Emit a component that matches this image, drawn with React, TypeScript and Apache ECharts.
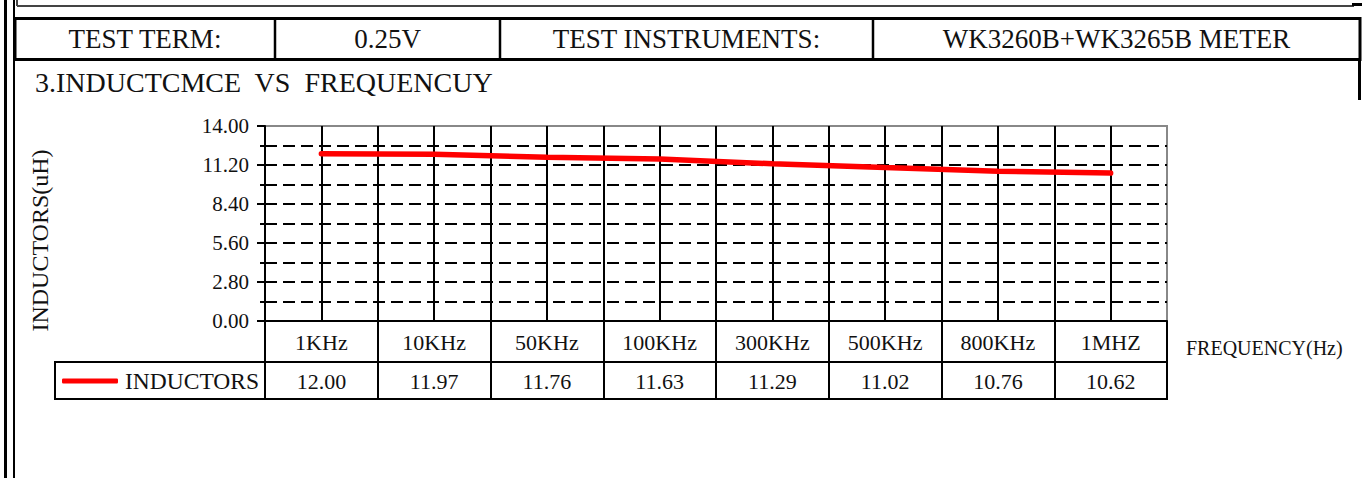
import React, { useEffect, useRef } from "react";
import * as echarts from "echarts";

// ---- data ----
const categories = ["1KHz", "10KHz", "50KHz", "100KHz", "300KHz", "500KHz", "800KHz", "1MHZ"];
const inductance = [12.0, 11.97, 11.76, 11.63, 11.29, 11.02, 10.76, 10.62];
const headerCells = ["TEST TERM:", "0.25V", "TEST INSTRUMENTS:", "WK3260B+WK3265B METER"];
const sectionTitle = "3.INDUCTCMCE  VS  FREQUENCUY";
const seriesName = "INDUCTORS";
const yAxisTitle = "INDUCTORS(uH)";
const xAxisTitle = "FREQUENCY(Hz)";
const yMin = 0;
const yMax = 14;
const yStep = 2.8;

// ---- layout ----
const W = 1364;
const H = 478;
const GRID_L = 265;
const GRID_T = 126;
const GRID_W = 902;
const GRID_H = 195;
const ROW_H = 41;
const FONT = '"Liberation Serif", "Times New Roman", serif';
const headerEdges = [15, 275, 500, 873, 1360];

export default function App() {
  const ref = useRef<HTMLDivElement>(null);

  useEffect(() => {
    if (!ref.current) return;
    const chart = echarts.init(ref.current, null, { renderer: "svg" });
    const gridB = GRID_T + GRID_H;

    const graphics: any[] = [
      { type: "rect", shape: { x: 4, y: 0, width: 3, height: H }, style: { fill: "#000" } },
      { type: "rect", shape: { x: 13, y: 0, width: 2, height: H }, style: { fill: "#000" } },
      { type: "line", shape: { x1: 17, y1: 6, x2: 1354, y2: 6 }, style: { stroke: "#444", lineWidth: 2 } },
      { type: "line", shape: { x1: 17, y1: 0, x2: 17, y2: 6 }, style: { stroke: "#444", lineWidth: 2 } },
      { type: "rect", shape: { x: 1352, y: 3, width: 10, height: 3 }, style: { fill: "#000" } },
      {
        type: "rect",
        shape: { x: headerEdges[0], y: 18.5, width: headerEdges[4] - headerEdges[0], height: 41 },
        style: { fill: "none", stroke: "#000", lineWidth: 3 },
      },
      { type: "line", shape: { x1: 1359.5, y1: 59, x2: 1359.5, y2: 100 }, style: { stroke: "#000", lineWidth: 3 } },
      {
        type: "text",
        x: 35,
        y: 82,
        style: { text: sectionTitle, fontFamily: FONT, fontSize: 28, fill: "#111", verticalAlign: "middle" },
      },
      {
        type: "rect",
        shape: { x: 55, y: gridB + ROW_H, width: GRID_L + GRID_W - 55, height: 37 },
        style: { fill: "none", stroke: "#000", lineWidth: 2 },
      },
    ];
    for (let i = 1; i < headerEdges.length - 1; i++) {
      graphics.push({
        type: "line",
        shape: { x1: headerEdges[i], y1: 18, x2: headerEdges[i], y2: 60 },
        style: { stroke: "#000", lineWidth: 2.5 },
      });
    }
    headerCells.forEach((t, i) => {
      graphics.push({
        type: "text",
        x: (headerEdges[i] + headerEdges[i + 1]) / 2,
        y: 39,
        style: {
          text: t,
          fontFamily: FONT,
          fontSize: 27,
          fill: "#111",
          align: "center",
          verticalAlign: "middle",
        },
      });
    });

    chart.setOption({
      animation: false,
      backgroundColor: "#fff",
      textStyle: { fontFamily: FONT },
      grid: {
        left: GRID_L,
        top: GRID_T,
        width: GRID_W,
        height: GRID_H,
        show: true,
        borderColor: "#888",
        borderWidth: 2,
        backgroundColor: "transparent",
      },
      legend: {
        data: [seriesName],
        left: 62,
        top: 369,
        padding: 0,
        icon: "roundRect",
        itemWidth: 56,
        itemHeight: 5,
        selectedMode: false,
        textStyle: { fontFamily: FONT, fontSize: 23.5, color: "#111", padding: [0, 0, 0, 2] },
      },
      xAxis: [
        {
          type: "category",
          data: categories,
          boundaryGap: true,
          position: "bottom",
          name: xAxisTitle,
          nameLocation: "end",
          nameGap: 19,
          nameTextStyle: {
            fontFamily: FONT,
            fontSize: 20,
            color: "#111",
            verticalAlign: "top",
            padding: [17, 0, 0, 0],
          },
          axisLine: { show: true, onZero: false, lineStyle: { color: "#000", width: 2 } },
          axisTick: { show: true, length: 78, lineStyle: { color: "#000", width: 2 } },
          axisLabel: { fontFamily: FONT, fontSize: 22, color: "#111", margin: 10 },
          splitLine: { show: false },
        },
        {
          type: "category",
          data: inductance.map((v) => v.toFixed(2)),
          boundaryGap: true,
          position: "bottom",
          offset: ROW_H,
          axisLine: { show: true, onZero: false, lineStyle: { color: "#000", width: 2 } },
          axisTick: { show: false },
          axisLabel: { fontFamily: FONT, fontSize: 22, color: "#111", margin: 8 },
          splitLine: { show: false },
        },
        {
          type: "value",
          min: 0,
          max: categories.length * 2,
          interval: 1,
          position: "top",
          axisLine: { show: false },
          axisTick: { show: false },
          axisLabel: { show: false },
          splitLine: {
            show: true,
            showMinLine: false,
            showMaxLine: false,
            lineStyle: { color: "#000", width: 2, type: "solid" },
          },
        },
      ],
      yAxis: {
        type: "value",
        min: yMin,
        max: yMax,
        interval: yStep,
        name: yAxisTitle,
        nameLocation: "middle",
        nameGap: 213,
        nameTextStyle: { fontFamily: FONT, fontSize: 24, color: "#111", padding: [0, 34, 0, 0] },
        axisLine: { show: true, lineStyle: { color: "#000", width: 2 } },
        axisTick: { show: true, length: 8, lineStyle: { color: "#000", width: 2 } },
        minorTick: { show: true, splitNumber: 2, length: 5, lineStyle: { color: "#000", width: 2 } },
        axisLabel: {
          fontFamily: FONT,
          fontSize: 21,
          color: "#111",
          margin: 16,
          formatter: (v: number) => v.toFixed(2),
        },
        splitLine: {
          show: true,
          showMinLine: false,
          showMaxLine: false,
          lineStyle: { color: "#000", width: 2, type: [12, 6] },
        },
        minorSplitLine: { show: true, lineStyle: { color: "#000", width: 2, type: [12, 6] } },
      },
      series: [
        {
          name: seriesName,
          type: "line",
          xAxisIndex: 0,
          data: inductance,
          showSymbol: false,
          symbol: "none",
          color: "#ff0000",
          lineStyle: { color: "#ff0000", width: 5.5, cap: "round" },
          z: 5,
        },
      ],
      graphic: graphics,
    });

    return () => chart.dispose();
  }, []);

  return (
    <div
      ref={ref}
      style={{ position: "absolute", left: 0, top: 0, width: W, height: H, background: "#fff" }}
    />
  );
}
